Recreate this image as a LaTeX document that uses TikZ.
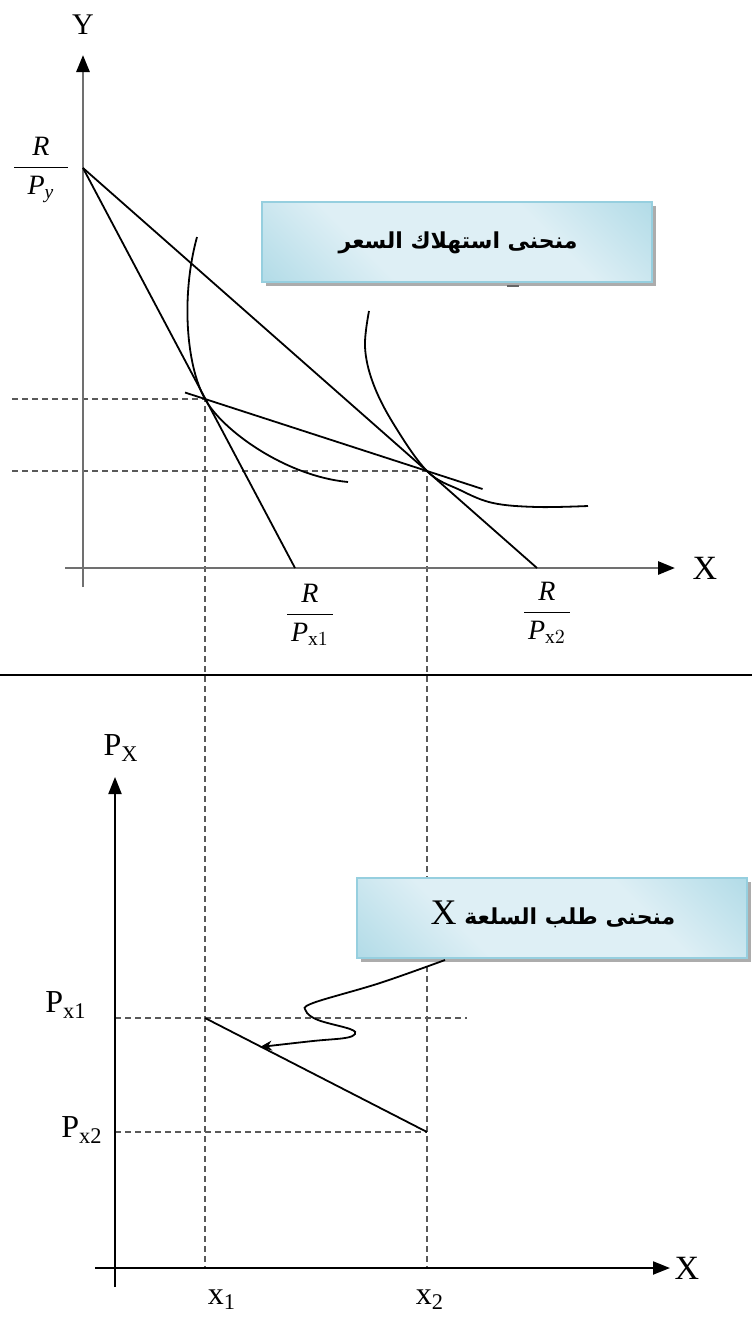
\documentclass[tikz,border=0pt]{standalone}
\usepackage{amsmath}
\usepackage{fontspec}
\setmainfont{Liberation Serif}
\newfontfamily\arabicfont[Script=Arabic]{DejaVu Sans}
\TeXXeTstate=1
\usetikzlibrary{arrows.meta, positioning, shadows, calc}
\definecolor{boxlight}{RGB}{222,239,245}
\definecolor{boxdark}{RGB}{146,205,221}
\definecolor{boxedge}{RGB}{150,207,223}
\definecolor{axisgray}{RGB}{112,112,112}
\pgfdeclarehorizontalshading{calloutshade}{100bp}{color(0bp)=(boxdark); color(35bp)=(boxlight); color(65bp)=(boxlight); color(100bp)=(boxdark)}
\newcommand{\rfrac}[2]{$\dfrac{\makebox[#1]{\textit{R}}}{#2}$}

\begin{document}
\begin{tikzpicture}[x=0.5pt, y=-0.5pt,
  axisup/.style={line width=1.4pt, axisgray, -{Triangle[length=8.5pt, width=6.5pt, color=black]}},
  axislow/.style={line width=1pt, black, -{Triangle[length=8.5pt, width=6.5pt]}},
  budget/.style={line width=0.9pt, black},
  guide/.style={line width=0.7pt, black!65, dash pattern=on 3pt off 2pt},
  callout/.style={draw=boxedge, line width=0.8pt, shading=calloutshade, shading angle=45,
    minimum width=195pt, minimum height=40pt,
    drop shadow={shadow xshift=2pt, shadow yshift=-2pt, fill=gray!65, opacity=1}},
  lbl/.style={font=\fontsize{16}{18}\selectfont, inner sep=0pt},
  frac/.style={font=\fontsize{14}{16}\selectfont, inner sep=0pt},
  arlbl/.style={font=\arabicfont\bfseries\fontsize{11}{13}\selectfont, inner sep=0pt}]
  \useasboundingbox (0,0) rectangle (752,1318);

  % Points
  \coordinate (Ry) at (83,168);
  \coordinate (Rx1) at (295,568);
  \coordinate (Rx2) at (537,568);
  \coordinate (A) at (205,399);
  \coordinate (B) at (427,471);
  \coordinate (D1) at (205,1018);
  \coordinate (D2) at (427,1132);
  \coordinate (xl0) at (95,1268);
  \coordinate (xl1) at (670,1268);
  \coordinate (yl0) at (115,1287);
  \coordinate (yl1) at (115,777);

  % Guides
  \draw[guide] (12,399) -- (A) -- (A |- xl0);
  \draw[guide] (12,471) -- (B) -- (B |- xl0);
  \draw[guide] (yl0 |- D1) -- (467,1018);
  \draw[guide] (yl0 |- D2) -- (D2);

  % Divider
  \draw[line width=1pt] (0,675) -- (752,675);

  % Upper axes
  \draw[axisup] (83,587) -- (83,55);
  \draw[axisup] (65,568) -- (675,568);
  \node[lbl, font=\fontsize{15}{18}\selectfont] (ylab) at (83,25) {Y};
  \node[lbl, font=\fontsize{17}{18}\selectfont] (xlab) at (705,568) {X};

  % Budget lines, price consumption line
  \draw[budget] (Ry) -- (Rx1);
  \draw[budget] (Ry) -- (Rx2);
  \draw[budget] ($(A)!-0.09!(B)$) -- ($(A)!1.25!(B)$);

  % Indifference curves
  \draw[budget] (197,237) .. controls (181,295) and (186,365) .. (A)
    .. controls (222,430) and (285,476) .. (348,482);
  \draw[budget] plot[smooth, tension=0.6] coordinates {(369,311) (365,347) (373,383) (393,423) (B) (460,490) (493,503) (537,507) (588,506)};

  % Fractions
  \node[frac] (rpy) at (41,170) {\rfrac{27pt}{\textit{P}_{\textit{y}}}};
  \node[frac] (rpx1) at (310,615) {\rfrac{23pt}{\textit{P}_{\text{x}1}}};
  \node[frac] (rpx2) at (547,613) {\rfrac{23pt}{\textit{P}_{\text{x}2}}};

  % Callout (upper)
  \node[callout] (pccbox) at (457,242) {};
  \node[arlbl] (pcctxt) at (458,243) {\beginR منحنى استهلاك السعر\endR};
  \draw[line width=1pt, black!60] (507,286) -- (519,286);

  % Lower axes
  \draw[axislow] (yl0) -- (yl1);
  \draw[axislow] (xl0) -- (xl1);
  \node[lbl] (pxlab) at (121,748) {P\textsubscript{X}};
  \node[lbl, font=\fontsize{17}{18}\selectfont] (xlab2) at (687,1268) {X};
  \node[lbl] (px1lab) at (66,1005) {P\textsubscript{x1}};
  \node[lbl] (px2lab) at (82,1130) {P\textsubscript{x2}};
  \node[lbl] (x1lab) at (222,1300) {x\textsubscript{1}};
  \node[lbl] (x2lab) at (430,1300) {x\textsubscript{2}};

  % Demand curve
  \draw[budget] (D1) -- (D2);

  % Callout (lower)
  \node[callout] (dembox) at (552,918) {};
  \node[arlbl] (demtxt) at (553,914) {\beginR منحنى طلب السلعة {\rmfamily\mdseries\fontsize{18}{20}\selectfont X}\endR};
  \coordinate (tail) at (445,960);
  \coordinate (tip) at (260,1047);
  \draw[line width=0.9pt, -{Stealth[length=6pt, width=5pt]}] plot[smooth, tension=0.6] coordinates {(tail) (380,983) (313,1003) (306,1011) (318,1020) (350,1029) (355,1034) (345,1038) (313,1041) (tip)};
\end{tikzpicture}
\end{document}
